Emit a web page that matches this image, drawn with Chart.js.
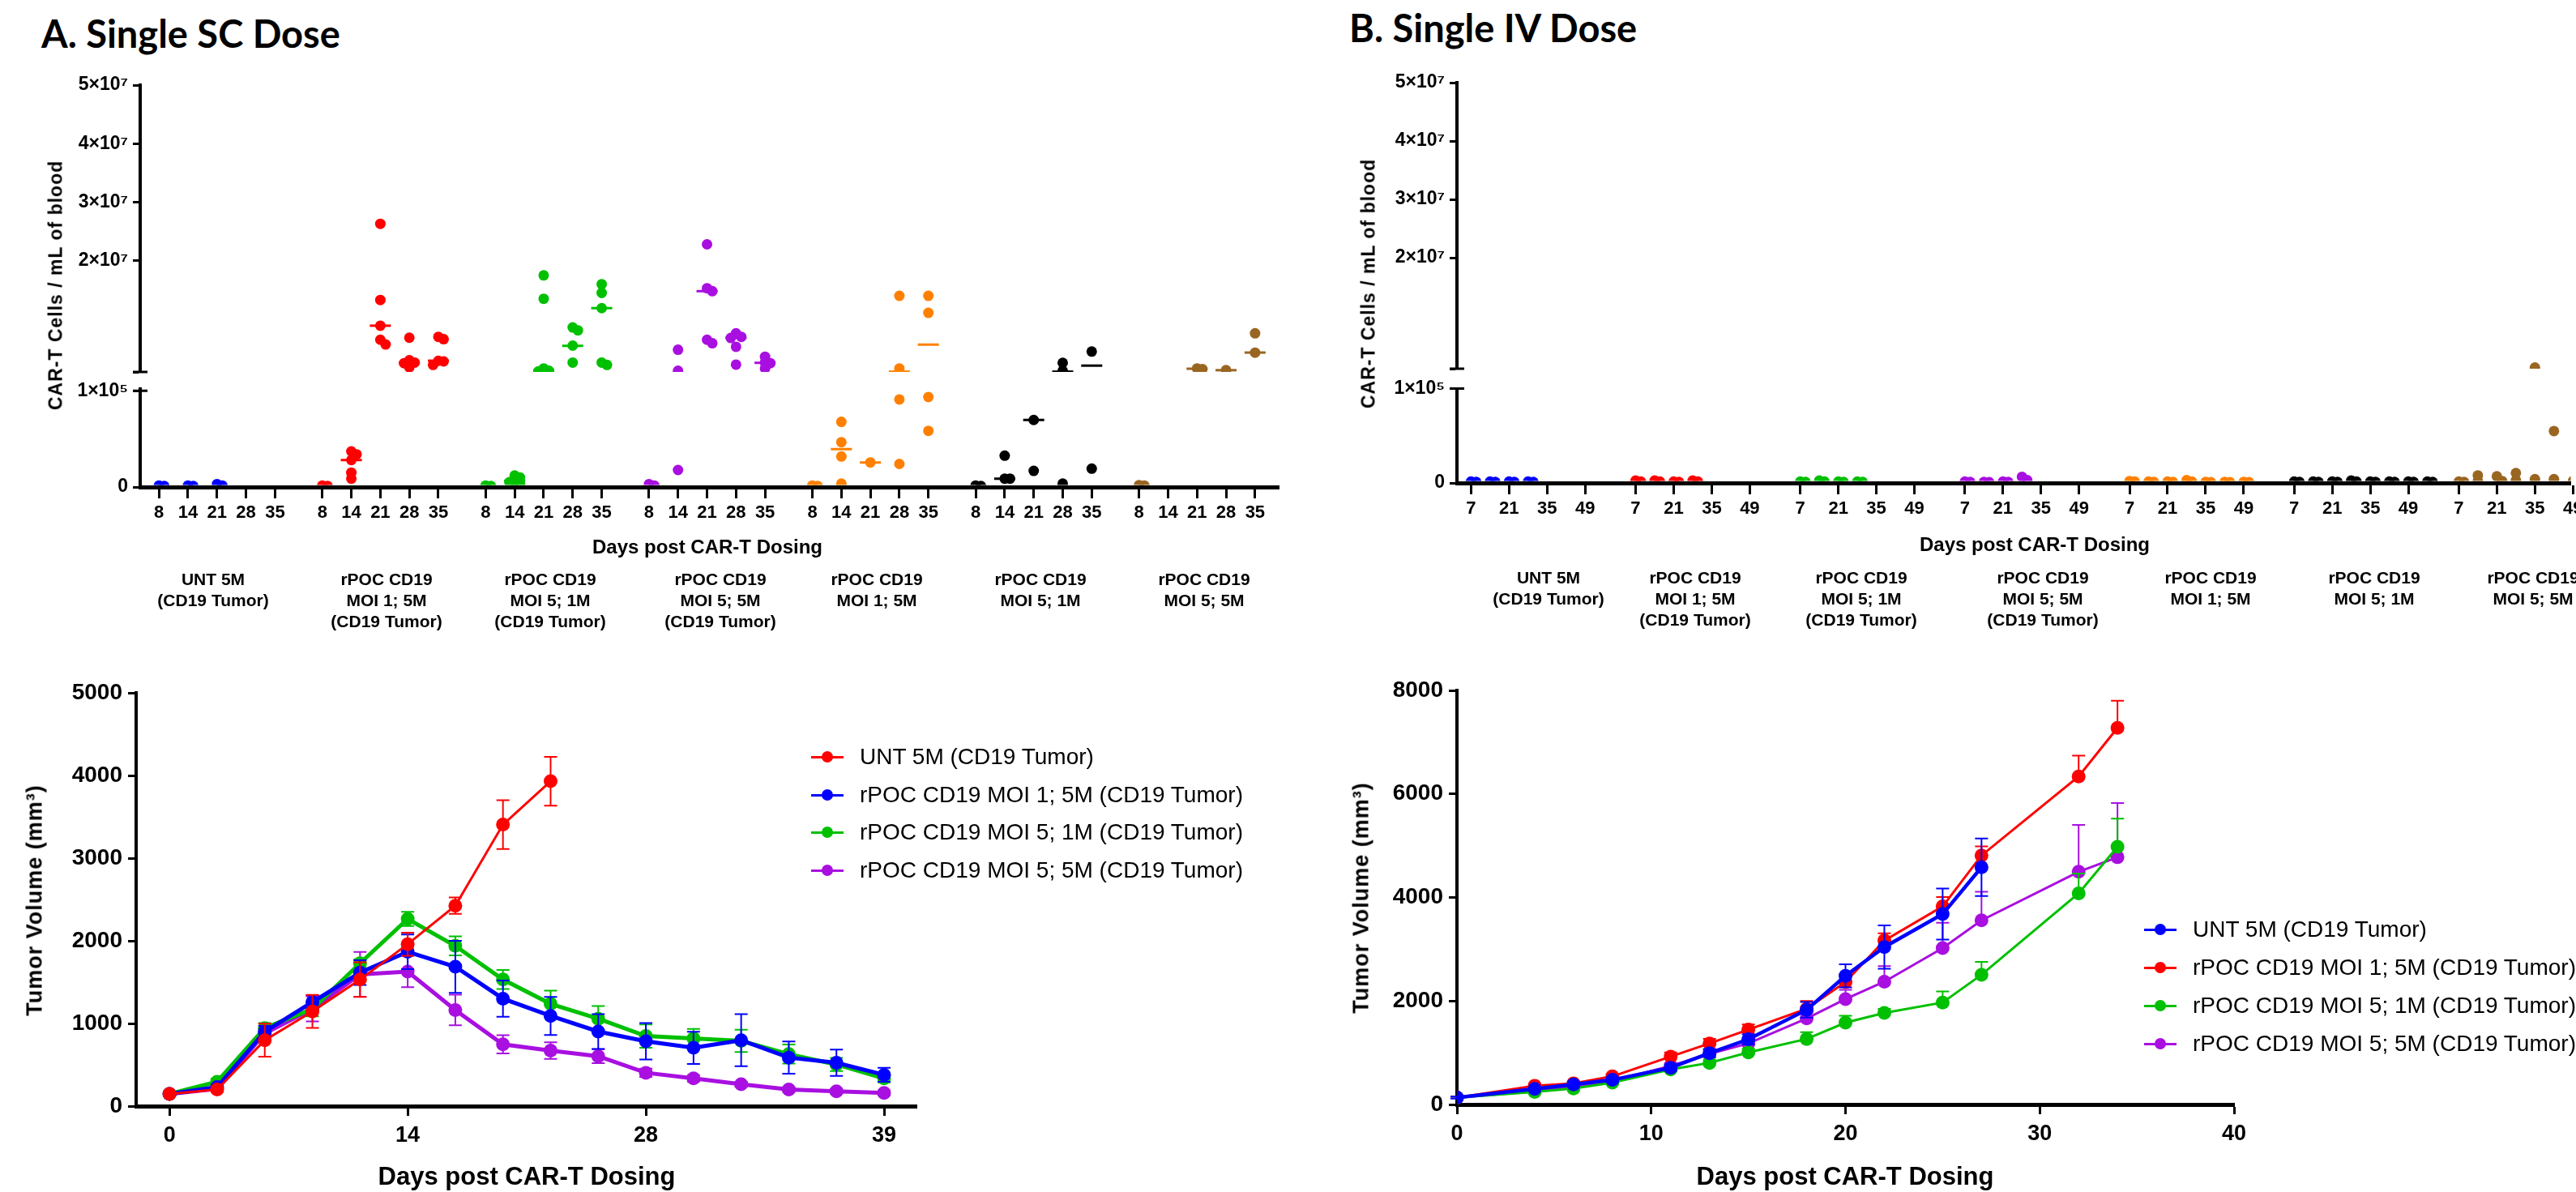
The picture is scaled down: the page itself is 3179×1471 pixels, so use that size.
<!DOCTYPE html>
<html>
<head>
<meta charset="utf-8">
<script src="https://cdn.jsdelivr.net/npm/chart.js@4.4.0/dist/chart.umd.min.js"></script>
<style>
  body { margin: 0; background: #fff; }
  #page { position: relative; width: 3179px; height: 1471px; overflow: hidden; background: #fff;
          font-family: 'Liberation Sans', Arial, sans-serif; color: #000; }
  canvas { position: absolute; }
  .panel { position: absolute; font-family: Lato, sans-serif; font-weight: 700; font-size: 47px; line-height: 1; white-space: nowrap; }
  .xt { position: absolute; white-space: nowrap; font-weight: bold; line-height: 1; transform: translate(-50%, -50%); }
  .yt { position: absolute; white-space: nowrap; font-weight: bold; line-height: 1; letter-spacing: 1px;
        transform: translate(-50%, -50%) rotate(-90deg); }
  .grp { position: absolute; transform: translateX(-50%); text-align: center; font-weight: bold;
         font-size: 21px; line-height: 26px; white-space: nowrap; }
  .mk { position: absolute; width: 40px; height: 18px; }
  .mk i { position: absolute; left: 0; top: 7.5px; width: 40px; height: 3px; }
  .mk b { position: absolute; left: 13px; top: 2px; width: 14px; height: 14px; border-radius: 50%; }
  .lt { position: absolute; font-size: 28px; line-height: 1; white-space: nowrap; transform: translateY(-50%); }
</style>
</head>
<body>
<div id="page">
  <div class="panel" style="left:51px; top:18px;">A. Single SC Dose</div>
  <div class="panel" style="left:1665px; top:11px;">B. Single IV Dose</div>
  <canvas id="scCells" width="1600" height="700" style="left:0; top:0;"></canvas>
  <canvas id="ivCells" width="1579" height="700" style="left:1600px; top:0;"></canvas>
  <canvas id="scTumor" width="1600" height="771" style="left:0; top:700px;"></canvas>
  <canvas id="ivTumor" width="1579" height="771" style="left:1600px; top:700px;"></canvas>
</div>
<script>
// ---- colours
const cBlue = '#0000FF', cRed = '#FF0000', cGreen = '#00C000', cPurple = '#A80FE0',
      cOrange = '#FF8000', cBlack = '#000000', cBrown = '#996622';

// ---- group names (shared by both top panels)
const groupNames = [
  ['UNT 5M', '(CD19 Tumor)'],
  ['rPOC CD19', 'MOI 1; 5M', '(CD19 Tumor)'],
  ['rPOC CD19', 'MOI 5; 1M', '(CD19 Tumor)'],
  ['rPOC CD19', 'MOI 5; 5M', '(CD19 Tumor)'],
  ['rPOC CD19', 'MOI 1; 5M'],
  ['rPOC CD19', 'MOI 5; 1M'],
  ['rPOC CD19', 'MOI 5; 5M']
];
const groupColors = [cBlue, cRed, cGreen, cPurple, cOrange, cBlack, cBrown];

// ---- A top: CAR-T cells / mL blood, SC dose (one list per sampling day)
const scDays = [8, 14, 21, 28, 35];
const scUnt         = [[1500, 1000], [1500, 1000], [3000, 1500], [], []];
const scMoi1Tumor   = [[1500, 1000], [37000, 34000, 28000, 15000, 8700], [26300000, 13300000, 8900000, 6500000, 5700000],
                       [6850000, 3000000, 2600000, 2500000, 1800000], [7000000, 6600000, 2900000, 2800000, 2200000]];
const scMoi51Tumor  = [[1500, 1000], [12000, 10000, 6500, 5000, 3500], [17500000, 13500000, 1600000, 1200000, 1100000],
                       [8600000, 8100000, 5500000, 2600000], [16000000, 14500000, 11900000, 2600000, 2200000]];
const scMoi55Tumor  = [[3000, 1500], [4800000, 1200000, 17700], [22800000, 15300000, 14800000, 6500000, 5900000],
                       [7600000, 7000000, 6800000, 5300000, 2250000], [3600000, 2600000, 2500000, 1600000]];
const scMoi15       = [[1500, 1000], [67700, 46600, 31700, 3600], [25500], [14000000, 1600000, 91000, 24000],
                       [14000000, 11100000, 93500, 58400]];
const scMoi51       = [[1500, 1000], [32600, 8700, 8700], [69700, 16800], [2560000, 1200000, 3600], [4490000, 19100]];
const scMoi55       = [[2000, 1500], [], [1600000, 1500000], [1300000], [7600000, 4300000]];
// median bars
const scMedUnt        = [null, null, null, null, null];
const scMedMoi1Tumor  = [null, 28000, 8900000, 2550000, 2920000];
const scMedMoi51Tumor = [null, 6500, 1300000, 5460000, 11900000];
const scMedMoi55Tumor = [null, null, 14800000, 6800000, 2560000];
const scMedMoi15      = [null, 39300, 25500, 1050000, 5670000];
const scMedMoi51      = [null, 8700, 69700, 1050000, 2080000];
const scMedMoi55      = [null, null, 1550000, 1300000, 4310000];

// ---- B top: CAR-T cells / mL blood, IV dose
const ivDays = [7, 14, 21, 28, 35, 42, 49, 56];
const ivUnt        = [[1500, 1000], [1500, 1000], [1500, 1000], [1500, 1000]];
const ivMoi1Tumor  = [[2500, 1500], [2500, 1500], [1500, 1000], [2500, 1500]];
const ivMoi51Tumor = [[1500, 1000], [2500, 1500], [1500, 1000], [1500, 1000]];
const ivMoi55Tumor = [[1500, 1000], [1000, 800], [1500, 1000], [6500, 3000]];
const ivMoi15      = [[2000, 1500], [1500, 1000], [1500, 1000], [3000, 1500], [1000, 800], [1000, 800], [1000, 800]];
const ivMoi51      = [[1500, 1000], [1500, 1000], [1500, 1000], [2500, 1500], [1500, 1000], [1500, 1000], [1500, 1000], [1500, 1000]];
const ivMoi55      = [[1500, 1000], [8000, 2000], [7000, 2000], [10500, 3000], [1200000, 4000], [55000, 4000], [2000, 1000]];

// ---- y tick values of the broken axes
const cellTicksHigh = [20000000, 30000000, 40000000, 50000000];
const cellTicksLow = [0, 100000];

// ---- A bottom: tumour volume, SC dose (16 measurements, labelled ticks at 0/14/28/39)
const scMeasure = [0, 1, 2, 3, 4, 5, 6, 7, 8, 9, 10, 11, 12, 13, 14, 15];
const scTickPos = [0, 5, 10, 15];
const scTickDays = ['0', '14', '28', '39'];
const scVolUnt       = [147, 201, 797, 1145, 1531, 1959, 2425, 3406, 3931];
const scErrUnt       = [20, 30, 200, 200, 210, 140, 100, 295, 295];
const scVolMoi15     = [147, 230, 900, 1258, 1615, 1867, 1686, 1300, 1091, 902, 784, 705, 797, 587, 524, 378];
const scErrMoi15     = [20, 30, 70, 85, 150, 210, 315, 220, 230, 210, 220, 195, 315, 195, 160, 85];
const scVolMoi51     = [147, 294, 944, 1175, 1728, 2265, 1938, 1531, 1237, 1057, 847, 818, 789, 629, 503, 336];
const scErrMoi51     = [20, 40, 60, 90, 50, 85, 115, 115, 160, 155, 140, 115, 135, 115, 80, 50];
const scVolMoi55     = [147, 210, 880, 1175, 1594, 1628, 1162, 747, 671, 604, 403, 336, 264, 201, 180, 159];
const scErrMoi55     = [20, 30, 60, 150, 270, 190, 185, 110, 100, 85, 50, 40, 30, 30, 30, 30];

// ---- B bottom: tumour volume, IV dose
const ivVolDays   = [0, 4, 6, 8, 11, 13, 15, 18, 20, 22, 25, 27, 32, 34];
const ivVolUnt    = [134, 300, 389, 476, 710, 992, 1260, 1829, 2486, 3042, 3678, 4583];
const ivErrUnt    = [20, 30, 40, 50, 60, 80, 100, 150, 224, 418, 493, 556];
const ivVolMoi15  = [134, 362, 409, 543, 925, 1179, 1447, 1849, 2365, 3169, 3826, 4811, 6338, 7276];
const ivErrMoi15  = [20, 40, 40, 50, 80, 90, 100, 150, 150, 140, 180, 175, 400, 523];
const ivVolMoi51  = [134, 241, 308, 422, 677, 804, 1005, 1266, 1581, 1769, 1970, 2506, 4080, 4978];
const ivErrMoi51  = [20, 30, 30, 40, 50, 60, 70, 130, 135, 80, 215, 250, 380, 543];
const ivVolMoi55  = [134, 255, 342, 456, 744, 978, 1179, 1662, 2037, 2372, 3022, 3558, 4496, 4777];
const ivErrMoi55  = [20, 30, 30, 40, 60, 70, 90, 120, 180, 300, 490, 550, 905, 1045];

const legendUnt = 'UNT 5M (CD19 Tumor)';
const legendMoi15 = 'rPOC CD19 MOI 1; 5M (CD19 Tumor)';
const legendMoi51 = 'rPOC CD19 MOI 5; 1M (CD19 Tumor)';
const legendMoi55 = 'rPOC CD19 MOI 5; 5M (CD19 Tumor)';

Chart.defaults.font.family = "'Liberation Sans', Arial, sans-serif";
Chart.defaults.color = '#000';

// day ticks of the top panels use a narrow bold face when one is installed
function hasFont(name) {
  const c = document.createElement('canvas').getContext('2d');
  c.font = 'bold 40px monospace';
  const a = c.measureText('mmmmwwww1234').width;
  c.font = "bold 40px '" + name + "', monospace";
  return c.measureText('mmmmwwww1234').width !== a;
}
const dayTickFont = hasFont('Liberation Sans Narrow')
  ? { family: "'Liberation Sans Narrow'", size: 27, weight: 'bold' }
  : { size: 22, weight: 'bold' };

const page = document.getElementById('page');
function addText(cls, text, left, top, size) {
  const d = document.createElement('div');
  d.className = cls;
  d.textContent = text;
  d.style.left = left + 'px';
  d.style.top = top + 'px';
  if (size) d.style.fontSize = size + 'px';
  page.appendChild(d);
  return d;
}

// clip each dataset to its own y segment (so points stop at the axis break)
const clipToAxis = {
  id: 'clipToAxis',
  beforeDatasetDraw(chart, args) {
    const ys = chart.scales[args.meta.yAxisID];
    const a = chart.chartArea;
    const bottom = ys.id === 'yLow' ? ys.bottom - 2.5 : ys.bottom;
    chart.ctx.save();
    chart.ctx.beginPath();
    chart.ctx.rect(a.left - 30, ys.top - 10, a.right - a.left + 60, bottom - ys.top + 10);
    chart.ctx.clip();
  },
  afterDatasetDraw(chart) { chart.ctx.restore(); }
};

// caps on both sides of the axis at the break
const breakCaps = {
  id: 'breakCaps',
  afterDraw(chart) {
    const ctx = chart.ctx, x = chart.chartArea.left;
    const hi = chart.scales.yHigh, lo = chart.scales.yLow;
    ctx.save();
    ctx.strokeStyle = '#000';
    ctx.lineWidth = 3;
    ctx.beginPath();
    [hi.getPixelForValue(hi.min), lo.getPixelForValue(cellTicksLow[1])].forEach(y => {
      ctx.moveTo(x - 9, y); ctx.lineTo(x + 9, y);
    });
    ctx.stroke();
    ctx.restore();
  }
};

// spread overlapping dots sideways, like a column scatter
const swarm = {
  id: 'swarm',
  afterDatasetsUpdate(chart, args, opts) {
    const r = opts.r;
    const cols = {};
    chart.data.datasets.forEach((ds, i) => {
      if (ds.kind !== 'dot') return;
      chart.getDatasetMeta(i).data.forEach(el => {
        const k = Math.round(el.x);
        (cols[k] = cols[k] || []).push(el);
      });
    });
    Object.values(cols).forEach(list => {
      list.sort((a, b) => a.y - b.y);
      const placed = [];
      list.forEach(el => {
        const x0 = el.x;
        for (const off of [0, 1, -1, 2, -2, 3, -3]) {
          const nx = x0 + off * r;
          if (placed.every(p => Math.hypot(p.x - nx, p.y - el.y) >= r)) { el.x = nx; break; }
        }
        placed.push({ x: el.x, y: el.y });
      });
    });
  }
};

const errorBars = {
  id: 'errorBars',
  beforeDatasetDraw(chart, args) {
    const ds = chart.data.datasets[args.index];
    if (!ds.errors) return;
    const ys = chart.scales[args.meta.yAxisID];
    const ctx = chart.ctx;
    ctx.save();
    ctx.strokeStyle = ds.borderColor;
    ctx.lineWidth = 2;
    args.meta.data.forEach((pt, i) => {
      const v = ds.data[i].y, e = ds.errors[i];
      const top = ys.getPixelForValue(v + e);
      const bot = ds.errDir === 'up' ? pt.y : ys.getPixelForValue(v - e);
      ctx.beginPath();
      ctx.moveTo(pt.x, top); ctx.lineTo(pt.x, bot);
      ctx.moveTo(pt.x - 8, top); ctx.lineTo(pt.x + 8, top);
      if (ds.errDir !== 'up') { ctx.moveTo(pt.x - 8, bot); ctx.lineTo(pt.x + 8, bot); }
      ctx.stroke();
    });
    ctx.restore();
  }
};

function superLabel(v, base) {
  const sup = { '5': '⁵', '7': '⁷' };
  return (v / Math.pow(10, base)) + '×10' + sup[String(base)];
}

function dotChart(id, groups, days, tickSlots, geo) {
  const ticks = [];
  groups.forEach((g, gi) => tickSlots.forEach(s => ticks.push({ value: gi * geo.groupStep + s, label: String(days[s]) })));
  const datasets = [];
  groups.forEach((g, gi) => {
    const hi = [], lo = [], mHi = [], mLo = [];
    g.values.forEach((vals, si) => {
      const x = gi * geo.groupStep + si;
      vals.forEach(v => (v >= geo.split ? hi : lo).push({ x, y: v }));
      const m = g.medians ? g.medians[si] : null;
      if (m != null) (m >= geo.split ? mHi : mLo).push({ x, y: m });
    });
    const dot = { kind: 'dot', order: 1, pointRadius: 6.5, pointBorderWidth: 0,
                  pointBackgroundColor: g.color, backgroundColor: g.color, borderColor: g.color };
    const med = { kind: 'median', order: 0, pointStyle: 'line', pointRadius: 13, pointBorderWidth: 3,
                  pointBorderColor: g.color, borderColor: g.color };
    datasets.push(Object.assign({ data: hi, yAxisID: 'yHigh' }, dot));
    datasets.push(Object.assign({ data: lo, yAxisID: 'yLow' }, dot));
    datasets.push(Object.assign({ data: mHi, yAxisID: 'yHigh' }, med));
    datasets.push(Object.assign({ data: mLo, yAxisID: 'yLow' }, med));
  });
  const yCommon = {
    position: 'left', stack: 'cells',
    grid: { display: true, drawOnChartArea: false, tickLength: 9, tickWidth: 3, tickColor: '#000' },
    border: { display: true, width: 4, color: '#000' },
    afterFit: sc => { sc.width = geo.left; sc.paddingTop = 0; sc.paddingBottom = 0; }
  };
  // stacked axes are laid out bottom-first: low segment, gap, high segment
  return new Chart(document.getElementById(id), {
    type: 'scatter',
    data: { datasets },
    options: {
      responsive: false, animation: false, events: [],
      layout: { padding: { top: geo.top, left: 0, right: geo.right, bottom: 0 } },
      plugins: { legend: { display: false }, tooltip: { enabled: false }, swarm: { r: 6.5 } },
      scales: {
        x: {
          type: 'linear', min: geo.xMin, max: geo.xMax,
          afterBuildTicks: sc => { sc.ticks = ticks.map(t => ({ value: t.value })); },
          afterFit: sc => { sc.height = geo.xHeight; sc.paddingLeft = 0; sc.paddingRight = 0; },
          ticks: { autoSkip: false, maxRotation: 0, padding: 5, font: dayTickFont,
                   callback: (v, i) => ticks[i] ? ticks[i].label : '' },
          grid: { display: true, drawOnChartArea: false, tickLength: 14, tickWidth: 3, tickColor: '#000' },
          border: { display: true, width: 5, color: '#000' }
        },
        yLow: Object.assign({}, yCommon, {
          type: 'linear', stackWeight: geo.lowPx, min: 0, max: geo.lowMax,
          afterBuildTicks: sc => { sc.ticks = cellTicksLow.map(v => ({ value: v })); },
          ticks: { padding: 6, font: { size: 23, weight: 'bold' },
                   callback: v => v === 0 ? '0' : superLabel(v, 5) }
        }),
        yGap: {
          type: 'linear', position: 'left', stack: 'cells', stackWeight: geo.gapPx, min: 0, max: 1,
          ticks: { display: false }, grid: { display: false }, border: { display: false },
          afterFit: sc => { sc.width = geo.left; sc.paddingTop = 0; sc.paddingBottom = 0; }
        },
        yHigh: Object.assign({}, yCommon, {
          type: 'linear', stackWeight: geo.highPx, min: geo.highMin, max: cellTicksHigh[cellTicksHigh.length - 1],
          afterBuildTicks: sc => { sc.ticks = [geo.highMin].concat(cellTicksHigh).map(v => ({ value: v })); },
          ticks: { padding: 6, font: { size: 23, weight: 'bold' },
                   callback: v => v === geo.highMin ? '' : superLabel(v, 7) }
        })
      }
    },
    plugins: [clipToAxis, swarm, breakCaps]
  });
}

function lineChart(id, series, geo) {
  const datasets = series.map((s, i) => ({
    label: s.label,
    data: s.values.map((v, j) => ({ x: s.x[j], y: v })),
    errors: s.errors, errDir: s.dir,
    borderColor: s.color, backgroundColor: s.color, borderWidth: s.width,
    pointRadius: 8.5, pointBorderWidth: 0, pointBackgroundColor: s.color,
    tension: 0, fill: false, yAxisID: 'y'
  }));
  return new Chart(document.getElementById(id), {
    type: 'line',
    data: { datasets },
    options: {
      responsive: false, animation: false, events: [],
      layout: { padding: { top: geo.top, left: 0, right: geo.right, bottom: 0 } },
      plugins: { legend: { display: false }, tooltip: { enabled: false } },
      scales: {
        x: {
          type: 'linear', min: geo.xMin, max: geo.xMax,
          afterBuildTicks: sc => { sc.ticks = geo.xTicks.map(v => ({ value: v })); },
          afterFit: sc => { sc.height = geo.xHeight; sc.paddingLeft = 0; sc.paddingRight = 0; },
          ticks: { autoSkip: false, maxRotation: 0, padding: 8, font: { size: 27, weight: 'bold' },
                   callback: (v, i) => geo.xLabels[i] },
          grid: { display: true, drawOnChartArea: false, tickLength: 12, tickWidth: 3, tickColor: '#000' },
          border: { display: true, width: 5, color: '#000' }
        },
        y: {
          type: 'linear', position: 'left', min: 0, max: geo.yMax,
          afterFit: sc => { sc.width = geo.left; sc.paddingTop = 0; sc.paddingBottom = 0; },
          ticks: { stepSize: geo.yStep, padding: 7, font: { size: 28, weight: 'bold' }, callback: v => String(v) },
          grid: { display: true, drawOnChartArea: false, tickLength: 10, tickWidth: 3, tickColor: '#000' },
          border: { display: true, width: 4, color: '#000' }
        }
      }
    },
    plugins: [errorBars]
  });
}

function htmlLegend(series, markX, textX, rows) {
  series.forEach((s, i) => {
    const mk = document.createElement('div');
    mk.className = 'mk';
    mk.style.left = (markX - 20) + 'px';
    mk.style.top = (rows[i] - 9) + 'px';
    mk.innerHTML = '<i style="background:' + s.color + '"></i><b style="background:' + s.color + '"></b>';
    page.appendChild(mk);
    addText('lt', s.label, textX, rows[i]);
  });
}

function groupLabels(centers, top) {
  groupNames.forEach((lines, i) => {
    const d = document.createElement('div');
    d.className = 'grp';
    d.style.left = centers[i] + 'px';
    d.style.top = top + 'px';
    d.innerHTML = lines.join('<br>');
    page.appendChild(d);
  });
}

// ---------- A top
const scGroups = [
  { values: scUnt, medians: scMedUnt },
  { values: scMoi1Tumor, medians: scMedMoi1Tumor },
  { values: scMoi51Tumor, medians: scMedMoi51Tumor },
  { values: scMoi55Tumor, medians: scMedMoi55Tumor },
  { values: scMoi15, medians: scMedMoi15 },
  { values: scMoi51, medians: scMedMoi51 },
  { values: scMoi55, medians: scMedMoi55 }
].map((g, i) => Object.assign(g, { color: groupColors[i] }));
dotChart('scCells', scGroups, scDays, [0, 1, 2, 3, 4], {
  groupStep: 5.631, xMin: -0.648, xMax: 38.6, left: 173, top: 105, right: 22, xHeight: 99,
  highPx: 354, gapPx: 21, lowPx: 121, highMin: 1000000, lowMax: 101900, split: 500000
});

// ---------- B top
const ivGroups = [ivUnt, ivMoi1Tumor, ivMoi51Tumor, ivMoi55Tumor, ivMoi15, ivMoi51, ivMoi55]
  .map((v, i) => ({ values: v, medians: null, color: groupColors[i] }));
dotChart('ivCells', ivGroups, ivDays, [0, 2, 4, 6], {
  groupStep: 8.653, xMin: -0.737, xMax: 57.8, left: 198, top: 102, right: 0, xHeight: 104,
  highPx: 353, gapPx: 24.5, lowPx: 116.5, highMin: 1000000, lowMax: 100000, split: 500000
});

// ---------- A bottom
const scSeries = [
  { label: legendUnt, color: cRed, x: scMeasure, values: scVolUnt, errors: scErrUnt, dir: 'both', width: 3 },
  { label: legendMoi15, color: cBlue, x: scMeasure, values: scVolMoi15, errors: scErrMoi15, dir: 'both', width: 5 },
  { label: legendMoi51, color: cGreen, x: scMeasure, values: scVolMoi51, errors: scErrMoi51, dir: 'both', width: 5 },
  { label: legendMoi55, color: cPurple, x: scMeasure, values: scVolMoi55, errors: scErrMoi55, dir: 'both', width: 5 }
];
lineChart('scTumor', scSeries, {
  xMin: -0.70, xMax: 15.68, xTicks: scTickPos, xLabels: scTickDays, yMax: 5000, yStep: 1000,
  left: 168, top: 155, right: 469, xHeight: 106
});

// ---------- B bottom
const ivSeries = [
  { label: legendUnt, color: cBlue, x: ivVolDays, values: ivVolUnt, errors: ivErrUnt, dir: 'both', width: 4.5 },
  { label: legendMoi15, color: cRed, x: ivVolDays, values: ivVolMoi15, errors: ivErrMoi15, dir: 'up', width: 3 },
  { label: legendMoi51, color: cGreen, x: ivVolDays, values: ivVolMoi51, errors: ivErrMoi51, dir: 'up', width: 3 },
  { label: legendMoi55, color: cPurple, x: ivVolDays, values: ivVolMoi55, errors: ivErrMoi55, dir: 'up', width: 3 }
];
lineChart('ivTumor', ivSeries, {
  xMin: 0, xMax: 40, xTicks: [0, 10, 20, 30, 40], xLabels: ['0', '10', '20', '30', '40'], yMax: 8000, yStep: 2000,
  left: 198, top: 152, right: 422, xHeight: 108
});

// ---------- texts
addText('xt', 'Days post CAR-T Dosing', 873, 675, 24);
addText('xt', 'Days post CAR-T Dosing', 2511, 672, 24);
addText('xt', 'Days post CAR-T Dosing', 650, 1451, 31);
addText('xt', 'Days post CAR-T Dosing', 2277, 1451, 31);
addText('yt', 'CAR-T Cells / mL of blood', 69, 352, 23);
addText('yt', 'CAR-T Cells / mL of blood', 1689, 350, 23);
addText('yt', 'Tumor Volume (mm³)', 43, 1111, 27);
addText('yt', 'Tumor Volume (mm³)', 1680, 1108, 27);
groupLabels([263, 477, 679, 889, 1082, 1284, 1486], 702);
groupLabels([1911, 2092, 2297, 2521, 2728, 2930, 3126], 700);
htmlLegend(scSeries, 1021, 1061, [934, 981, 1027, 1074]);
htmlLegend(ivSeries, 2666, 2706, [1147, 1194, 1241, 1288]);
</script>
</body>
</html>
